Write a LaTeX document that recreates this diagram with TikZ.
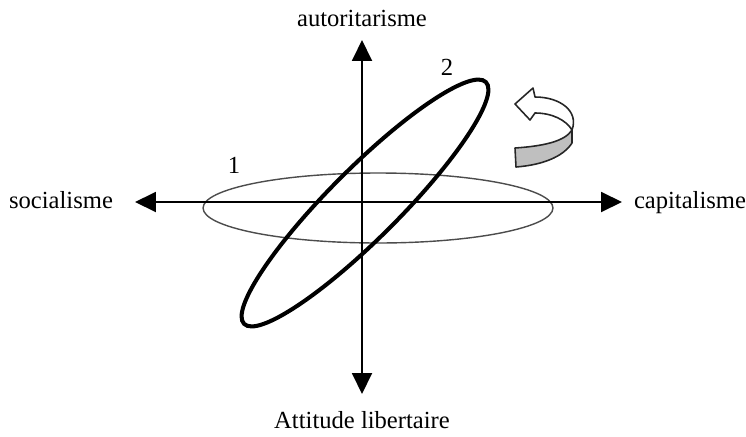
\documentclass[tikz,border=0pt]{standalone}
\usepackage{fontspec}
\setmainfont{Liberation Serif}
\usetikzlibrary{arrows.meta}
\tikzset{
  axis/.style={line width=1.1pt,{Triangle[length=4.2mm,width=4mm]}-{Triangle[length=4.2mm,width=4mm]}},
  lbl/.style={font=\fontsize{14}{16}\selectfont,text=black,inner sep=0pt,anchor=base},
  ringone/.style={draw=black!70,line width=0.8pt},
  ringtwo/.style={draw=black,line width=2.3pt},
  band/.style={draw=black!85,line width=0.9pt,line join=round},
}

\begin{document}
\begin{tikzpicture}[x=0.02cm,y=-0.02cm]
    \useasboundingbox (0,0) rectangle (746,436);
    % axis ends and ring centres
    \coordinate (west) at (135,202); \coordinate (east) at (622,202);
    \coordinate (north) at (362,40); \coordinate (south) at (362,394);
    \coordinate (c1) at (378,208); \coordinate (c2) at (365,203);
    \draw[ringone] (c1) ellipse [x radius=3.5cm,y radius=0.7cm];
    \draw[axis] (west) -- (east);
    \draw[axis] (south) -- (north);
    \draw[ringtwo] (c2) ellipse [x radius=3.42cm,y radius=0.7cm,rotate=45];
    \node[lbl] (top) at (362,27) {autoritarisme};
    \node[lbl] (bottom) at (362,428) {Attitude libertaire};
    \node[lbl] (soc) at (61,208) {socialisme};
    \node[lbl] (cap) at (690,208) {capitalisme};
    \node[lbl] (n1) at (234,173) {1};
    \node[lbl] (n2) at (447,75) {2};
    % turning arrow
    \filldraw[band,fill=black!25] (515,148) .. controls (545,146) and (565,141) .. (572,130)
      -- (572,143) .. controls (563,157) and (542,165) .. (516,167) -- cycle;
    \filldraw[band,fill=white] (572,130) .. controls (579,111) and (560,97) .. (535,97)
      -- (533,88) -- (515,104) -- (530,120) -- (535,113)
      .. controls (552,113) and (566,120) .. (572,130) -- cycle;
\end{tikzpicture}
\end{document}
